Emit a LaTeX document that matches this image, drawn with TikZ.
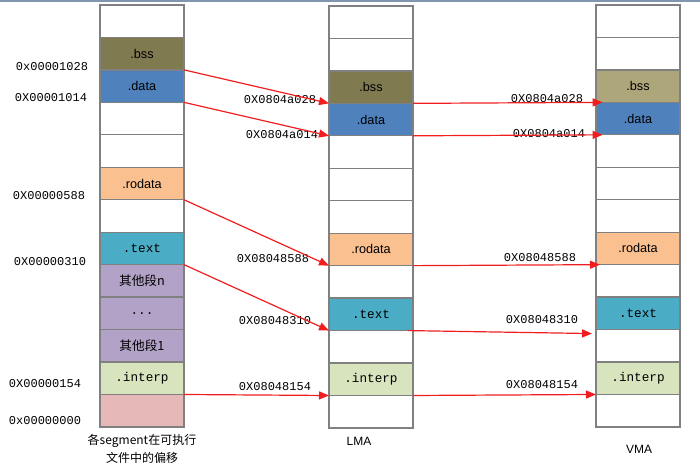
\documentclass[tikz,border=0pt]{standalone}
\usepackage{fontspec}
\setmainfont{Liberation Sans}
\setmonofont{Liberation Mono}
\newfontfamily\cjk{Noto Sans CJK SC}
\usetikzlibrary{arrows.meta}

\definecolor{cellgray}{RGB}{128,128,128}
\definecolor{bssdark}{RGB}{127,122,80}
\definecolor{bsslight}{RGB}{173,166,122}
\definecolor{datablue}{RGB}{79,129,189}
\definecolor{rodatapeach}{RGB}{250,192,144}
\definecolor{textteal}{RGB}{75,172,198}
\definecolor{otherlilac}{RGB}{179,162,199}
\definecolor{interpgreen}{RGB}{215,228,189}
\definecolor{headpink}{RGB}{230,185,184}
\definecolor{linkred}{RGB}{240,30,30}
\definecolor{framegray}{RGB}{128,150,175}

\begin{document}
\begin{tikzpicture}[
  x=0.75pt, y=-0.75pt,
  cell/.style={rectangle, draw=cellgray, line width=1pt, minimum width=63pt,
               minimum height=24.35pt, inner sep=0pt, outer sep=0pt,
               font=\fontsize{9.5}{11}\selectfont},
  addr/.style={font=\ttfamily\fontsize{9}{10}\selectfont, inner sep=0pt},
  caption/.style={font=\fontsize{9}{13.5}\selectfont, align=center, inner sep=0pt},
  link/.style={-{Triangle[length=7.5pt,width=6pt]}, draw=linkred, line width=0.9pt}
]
\useasboundingbox (0,0) rectangle (700,470);
\draw[framegray, line width=1.5pt] (0,0.8) -- (700,0.8);

% offsets in the file
\foreach \c/\t [count=\k] in {white/{}, bssdark/.bss, datablue/.data, white/{}, white/{},
    rodatapeach/.rodata, white/{}, textteal/{\ttfamily .text}, otherlilac/{\cjk 其他段n},
    otherlilac/{\ttfamily .{}.{}.}, otherlilac/{\cjk 其他段1}, interpgreen/{\ttfamily .interp},
    headpink/{}}
  \node[cell, fill=\c] (off\k) at (142, {21.2+32.46*(\k-1)}) {\t};

% LMA
\foreach \c/\t [count=\k] in {white/{}, white/{}, bssdark/.bss, datablue/.data, white/{},
    white/{}, white/{}, rodatapeach/.rodata, white/{}, textteal/{\ttfamily .text}, white/{},
    interpgreen/{\ttfamily .interp}, white/{}}
  \node[cell, fill=\c] (lma\k) at (371, {22.2+32.46*(\k-1)}) {\t};

% VMA
\foreach \c/\t [count=\k] in {white/{}, white/{}, bsslight/.bss, datablue/.data, white/{},
    white/{}, white/{}, rodatapeach/.rodata, white/{}, textteal/{\ttfamily .text}, white/{},
    interpgreen/{\ttfamily .interp}, white/{}}
  \node[cell, fill=\c] (vma\k) at (638, {21.2+32.46*(\k-1)}) {\t};

% addresses
\node[addr] (o1028) at (52,67)  {0x00001028};
\node[addr] (o1014) at (51,98)  {0X00001014};
\node[addr] (o0588) at (49,196) {0X00000588};
\node[addr] (o0310) at (50,262) {0X00000310};
\node[addr] (o0154) at (45,384) {0X00000154};
\node[addr] (o0000) at (45,421) {0x00000000};

\node[addr] (l028) at (280,100) {0X0804a028};
\node[addr] (l014) at (282,135) {0X0804a014};
\node[addr] (l588) at (273,259) {0X08048588};
\node[addr] (l310) at (275,321) {0X08048310};
\node[addr] (l154) at (275,387) {0X08048154};

\node[addr] (v028) at (547,99)  {0X0804a028};
\node[addr] (v014) at (549,134) {0X0804a014};
\node[addr] (v588) at (540,258) {0X08048588};
\node[addr] (v310) at (542,320) {0X08048310};
\node[addr] (v154) at (542,385) {0X08048154};

% captions
\node[caption, font=\cjk\fontsize{9}{13.5}\selectfont] (offcap) at (142,449)
  {各segment在可执行\\文件中的偏移};
\node[caption] (lmacap) at (359,441) {LMA};
\node[caption] (vmacap) at (639,449) {VMA};

% file -> LMA
\draw[link] (off2.south east) -- (lma3.south west);
\draw[link] (off3.south east) -- (lma4.south west);
\draw[link] (off6.south east) -- (lma8.south west);
\draw[link] (off8.south east) -- (lma10.south west);
\draw[link] (off12.south east) -- (lma12.south west);

% LMA -> VMA
\draw[link] (lma3.south east) -- ([xshift=5pt]vma3.south west);
\draw[link] (lma4.south east) -- ([xshift=5pt]vma4.south west);
\draw[link] (lma8.south east) -- ([xshift=3pt]vma8.south west);
\draw[link] ([xshift=-4pt]lma10.south east) -- ([xshift=-3pt,yshift=-3pt]vma10.south west);
\draw[link] (lma12.south east) -- (vma12.south west);
\end{tikzpicture}
\end{document}
